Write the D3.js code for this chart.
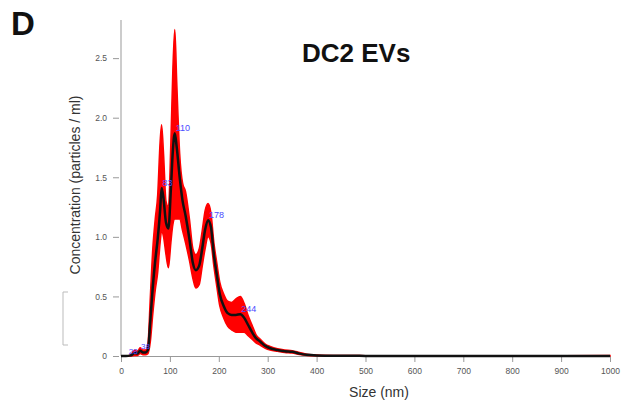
<!DOCTYPE html>
<html>
<head>
<meta charset="utf-8">
<script src="https://cdn.jsdelivr.net/npm/d3@7"></script>
<style>
  html, body { margin: 0; padding: 0; background: #fff; }
  svg { display: block; font-family: "Liberation Sans", Arial, sans-serif; }
</style>
</head>
<body>
<script>
// particle size (nm)
const sizes = [0, 10, 20, 28, 34, 39, 45, 50, 55, 60, 65, 70, 75, 80, 83, 87, 92, 97, 102, 106, 110, 114, 120, 126, 132, 140, 147, 153, 160, 166, 172, 178, 184, 190, 196, 202, 210, 218, 226, 235, 244, 252, 260, 268, 276, 285, 295, 305, 320, 335, 350, 365, 380, 400, 450, 500, 600, 700, 800, 900, 1000];
// mean concentration (E8 particles / ml)
const meanConc = [0, 0, 0.005, 0.025, 0.02, 0.045, 0.03, 0.03, 0.05, 0.3, 0.58, 0.8, 0.98, 1.22, 1.41, 1.32, 1.12, 1.07, 1.4, 1.72, 1.87, 1.75, 1.5, 1.3, 1.18, 0.98, 0.78, 0.72, 0.76, 0.9, 1.06, 1.14, 1.08, 0.85, 0.68, 0.52, 0.42, 0.36, 0.345, 0.345, 0.35, 0.32, 0.26, 0.2, 0.15, 0.12, 0.085, 0.065, 0.05, 0.04, 0.035, 0.02, 0.01, 0.005, 0.002, 0.001, 0, 0, 0, 0, 0];
// upper / lower error band
const upperConc = [0, 0, 0.01, 0.05, 0.04, 0.07, 0.05, 0.05, 0.1, 0.5, 0.9, 1.15, 1.35, 1.8, 1.94, 1.7, 1.3, 1.25, 1.8, 2.4, 2.74, 2.3, 1.7, 1.45, 1.38, 1.15, 0.9, 0.85, 0.9, 1.05, 1.22, 1.28, 1.2, 0.95, 0.78, 0.62, 0.52, 0.46, 0.45, 0.48, 0.5, 0.44, 0.34, 0.26, 0.18, 0.14, 0.1, 0.08, 0.06, 0.05, 0.045, 0.03, 0.015, 0.008, 0.004, 0.003, 0.002, 0.002, 0.002, 0.002, 0.004];
const lowerConc = [0, 0, 0, 0.005, 0.005, 0.02, 0.01, 0.01, 0.02, 0.12, 0.35, 0.55, 0.7, 0.95, 1.05, 1.0, 0.85, 0.74, 0.95, 1.1, 1.15, 1.15, 1.15, 1.05, 0.95, 0.8, 0.65, 0.57, 0.6, 0.75, 0.9, 1.0, 0.95, 0.75, 0.58, 0.42, 0.32, 0.25, 0.22, 0.2, 0.2, 0.2, 0.17, 0.14, 0.11, 0.09, 0.065, 0.05, 0.04, 0.03, 0.025, 0.012, 0.005, 0.002, 0, 0, 0, 0, 0, 0, 0];
// peak labels
const peakSizes = [28, 39, 83, 110, 178, 244];
const peakLabels = ["28", "38", "83", "110", "178", "244"];

const xTicks = [0, 100, 200, 300, 400, 500, 600, 700, 800, 900, 1000];
const yTicks = [0, 0.5, 1.0, 1.5, 2.0, 2.5];
const yTickLabels = ["0", "0.5", "1.0", "1.5", "2.0", "2.5"];

const width = 629, height = 406;
const svg = d3.select("body").append("svg").attr("width", width).attr("height", height);

const x = d3.scaleLinear().domain([0, 1000]).range([121, 610]);
const y = d3.scaleLinear().domain([0, 2.82]).range([356, 20]);

const data = sizes.map((s, i) => ({ s, m: meanConc[i], u: upperConc[i], l: lowerConc[i] }));

// panel letter + title
svg.append("text").attr("x", 11).attr("y", 35)
  .attr("font-size", 33).attr("font-weight", "bold").attr("fill", "#111").text("D");
svg.append("text").attr("x", 302).attr("y", 62)
  .attr("font-size", 26).attr("font-weight", "bold").attr("fill", "#111").text("DC2 EVs");

// left-edge bracket from the neighbouring panel
svg.append("path").attr("d", "M68,292 L63,292 L63,345 L68,345")
  .attr("fill", "none").attr("stroke", "#bbb").attr("stroke-width", 1);

// axes
const xAxis = svg.append("g").attr("transform", "translate(0,356)")
  .call(d3.axisBottom(x).tickValues(xTicks).tickSize(6).tickPadding(6).tickFormat(d3.format("d")));
const yAxis = svg.append("g").attr("transform", "translate(121,0)")
  .call(d3.axisLeft(y).tickValues(yTicks).tickSize(0).tickPadding(14)
    .tickFormat((d, i) => yTickLabels[i]));
yAxis.selectAll(".tick").append("line")
  .attr("x1", -8).attr("x2", -2).attr("stroke", "#888");
[xAxis, yAxis].forEach(a => {
  a.select(".domain").attr("stroke", "#999");
  a.selectAll(".tick line").attr("stroke", "#999");
  a.selectAll("text").attr("font-size", 8.5).attr("fill", "#555")
    .attr("font-family", "'Liberation Sans', Arial, sans-serif");
});
yAxis.select(".domain").attr("d", `M0,${y(0)}V20`);

// axis titles
svg.append("text").attr("x", 379).attr("y", 397).attr("text-anchor", "middle")
  .attr("font-size", 14).attr("fill", "#333").text("Size (nm)");
svg.append("text").attr("transform", "translate(80,185) rotate(-90)").attr("text-anchor", "middle")
  .attr("font-size", 14).attr("fill", "#333").text("Concentration (particles / ml)");

// error band
const band = d3.area().x(d => x(d.s)).y0(d => y(d.l)).y1(d => y(d.u)).curve(d3.curveMonotoneX);
svg.append("path").datum(data).attr("d", band)
  .attr("fill", "#ff0000").attr("stroke", "#ff0000").attr("stroke-width", 1.5);

// mean line
const line = d3.line().x(d => x(d.s)).y(d => y(d.m)).curve(d3.curveMonotoneX);
svg.append("path").datum(data).attr("d", line)
  .attr("fill", "none").attr("stroke", "#111").attr("stroke-width", 2.5);

// peak labels (first small one right-aligned so it does not collide with its neighbour)
const meanAt = s => d3.scaleLinear().domain(sizes).range(meanConc)(s);
svg.selectAll(".peak").data(peakSizes).enter().append("text")
  .attr("class", "peak")
  .attr("x", (d, i) => i === 0 ? x(d) + 3 : x(d) + 1)
  .attr("y", (d, i) => i === 0 ? y(meanAt(d)) + 1 : y(meanAt(d)) - 2)
  .attr("text-anchor", (d, i) => i === 0 ? "end" : "start")
  .attr("font-size", (d, i) => i < 2 ? 8 : 9).attr("fill", "#4a4aff")
  .text((d, i) => peakLabels[i]);
</script>
</body>
</html>
